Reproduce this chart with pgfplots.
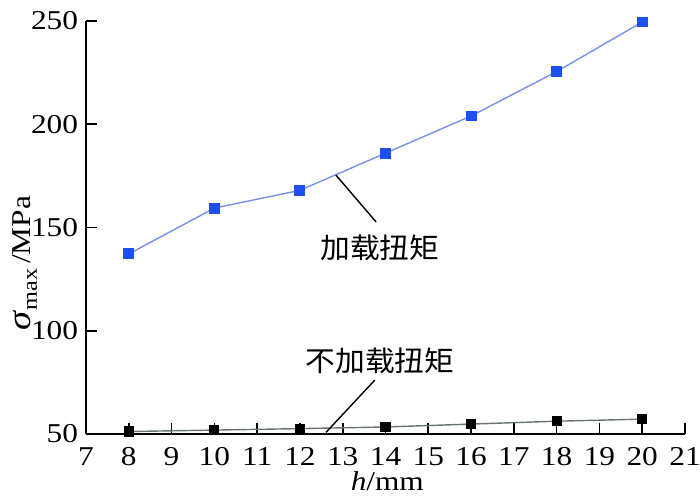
\documentclass[border=0pt]{standalone}
\usepackage{fontspec}
\setmainfont{Liberation Serif}
\newfontfamily\wide[FakeStretch=1.15]{Liberation Serif}
\newfontfamily\cjk[FakeStretch=1.06]{Noto Sans CJK SC}
\usepackage{pgfplots}
\pgfplotsset{compat=1.18}
\usetikzlibrary{calc}
\definecolor{markblue}{RGB}{30,80,240}
\definecolor{lineblue}{RGB}{120,145,232}
\definecolor{linegray}{RGB}{105,115,115}
\begin{document}
\begin{tikzpicture}
\begin{axis}[
    scale only axis,
    width=11.98cm,
    height=8.26cm,
    xmin=7, xmax=21,
    ymin=50, ymax=250,
    xtick={7,8,...,21},
    ytick={50,100,150,200,250},
    axis x line*=bottom,
    axis y line*=left,
    axis line style={line width=1.1pt},
    tick style={line width=0.9pt, black},
    tick align=inside,
    major tick length=0.22cm,
    clip=false,
    /pgf/number format/assume math mode=true,
    ticklabel style={font=\wide\fontsize{15.5}{17}\selectfont},
    xticklabel style={yshift=-4pt},
    yticklabel style={xshift=-1pt},
    xlabel={\wide\fontsize{15.5}{17}\selectfont\textit{h}/mm},
    ylabel={\wide\fontsize{15.5}{17}\selectfont{\fontsize{19}{19}\selectfont\textit{σ}}\raisebox{-0.5ex}{\fontsize{12}{12}\selectfont max}\,/MPa},
    xlabel style={at={(axis description cs:0.503,0)}, anchor=base, yshift=-1.13cm},
    ylabel style={at={(axis description cs:-0.102,0.414)}, anchor=center},
]
\coordinate (o) at (rel axis cs:0,0);
% 加载扭矩
\addplot[color=lineblue, line width=0.8pt, mark=square*,
    mark options={draw=markblue, fill=markblue}, mark size=2.7pt] coordinates {
    (8, 137.2)
    (10, 159.4)
    (12, 168.0)
    (14, 186.0)
    (16, 204.0)
    (18, 225.5)
    (20, 249.5)
};
% 不加载扭矩
\addplot[color=linegray, line width=0.8pt, mark=square*,
    mark options={draw=black, fill=black}, mark size=2.5pt] coordinates {
    (8, 51.2)
    (10, 51.9)
    (12, 52.6)
    (14, 53.4)
    (16, 54.8)
    (18, 56.2)
    (20, 57.2)
};
\draw[line width=0.8pt] (axis cs:12.84,175.4) -- (axis cs:13.78,152.7);
\node[font=\cjk\fontsize{16}{18}\selectfont] at (axis cs:13.87,140) {加载扭矩};
\draw[line width=0.8pt] (axis cs:13.75,76.1) -- (axis cs:12.61,50.8);
\node[font=\cjk\fontsize{16}{18}\selectfont] at (axis cs:13.87,85.5) {不加载扭矩};
\end{axis}
\pgfresetboundingbox
\path ($(o)+(-1.72cm,-1.24cm)$) rectangle ++(14cm,9.92cm);
\end{tikzpicture}
\end{document}
